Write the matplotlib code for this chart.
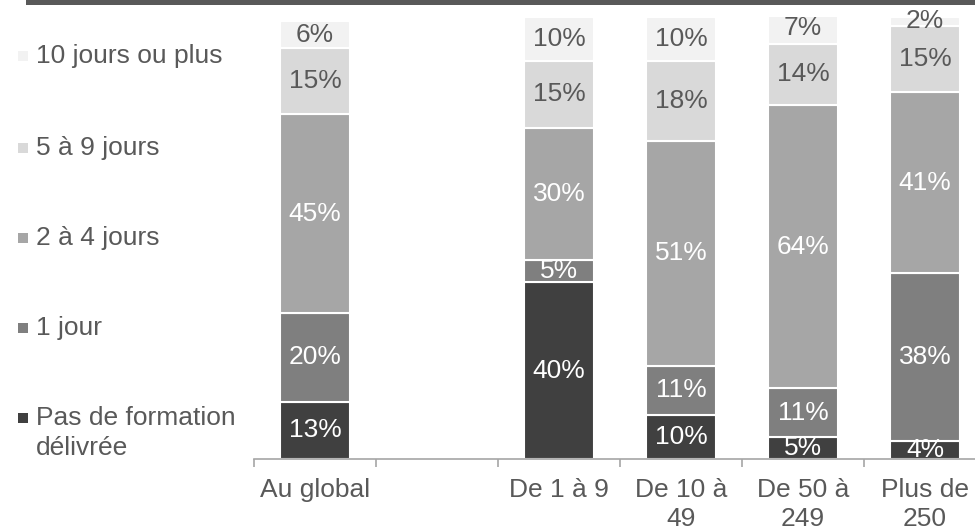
import matplotlib
matplotlib.use("Agg")
import matplotlib.pyplot as plt
from matplotlib.patches import Rectangle
import numpy as np

plt.rcParams['font.family'] = ['Liberation Sans', 'DejaVu Sans']

categories = ["Au global", "", "De 1 à 9", "De 10 à\n49", "De 50 à\n249", "Plus de\n250"]
series = ["Pas de formation\ndélivrée", "1 jour", "2 à 4 jours", "5 à 9 jours", "10 jours ou plus"]
# one value per category (None for the empty slot)
pas_formation = [13, None, 40, 10, 5, 4]
un_jour = [20, None, 5, 11, 11, 38]
deux_quatre = [45, None, 30, 51, 64, 41]
cinq_neuf = [15, None, 15, 18, 14, 15]
dix_plus = [6, None, 10, 10, 7, 2]

colors = ["#404040", "#7f7f7f", "#a6a6a6", "#d9d9d9", "#f2f2f2"]
label_colors = ["white", "white", "white", "#595959", "#595959"]
txt = "#595959"
fs = 19

fig = plt.figure(figsize=(9.75, 5.32), dpi=100)
ax = fig.add_axes([254 / 975, 1 - 459 / 532, 1 - 254 / 975, 442 / 532])

x = np.arange(len(categories))
bottom = np.zeros(len(categories))
data = [pas_formation, un_jour, deux_quatre, cinq_neuf, dix_plus]
for vals, col, lcol in zip(data, colors, label_colors):
    v = np.array([0 if a is None else a for a in vals], dtype=float)
    ax.bar(x, v, 0.57, bottom=bottom, color=col, edgecolor="white", linewidth=1.5)
    for i, val in enumerate(vals):
        if val is None:
            continue
        ax.text(x[i], bottom[i] + val / 2, f"{val}%", ha="center", va="center",
                color=lcol, fontsize=fs)
    bottom += v

ax.set_yticks([])
for s in ["left", "right", "top"]:
    ax.spines[s].set_visible(False)
ax.spines["bottom"].set_color("#a6a6a6")
ax.spines["bottom"].set_linewidth(1.2)
ax.set_xticks(x)
ax.set_xticklabels(categories, fontsize=fs, color=txt, linespacing=1.25)
ax.set_xticks(np.arange(-0.5, len(categories)), minor=True)
ax.tick_params(axis="x", which="major", length=0, pad=14)
ax.tick_params(axis="x", which="minor", length=6, width=1.2, color="#a6a6a6", direction="out")
# limits last, set_xticks would widen them
ax.set_xlim(-0.5, (975 - 315) / 122)
ax.set_ylim(0, 100)

# legend, top entry first
leg_y = [56, 148, 238, 328, 418]
for name, col, yy in zip(series[::-1], colors[::-1], leg_y):
    fig.patches.append(Rectangle((18 / 975, 1 - (yy + 5) / 532), 10 / 975, 10 / 532,
                                 transform=fig.transFigure, facecolor=col, edgecolor="none"))
    nl = name.count("\n")
    fig.text(36 / 975, 1 - (yy + 15 * nl) / 532, name, fontsize=fs, color=txt, va="center",
             ha="left", linespacing=1.3)

# header band
fig.patches.append(Rectangle((26 / 975, 1 - 5 / 532), 1, 5 / 532, transform=fig.transFigure,
                             facecolor="#595959", edgecolor="none"))

fig.savefig("out.png", dpi=100)
